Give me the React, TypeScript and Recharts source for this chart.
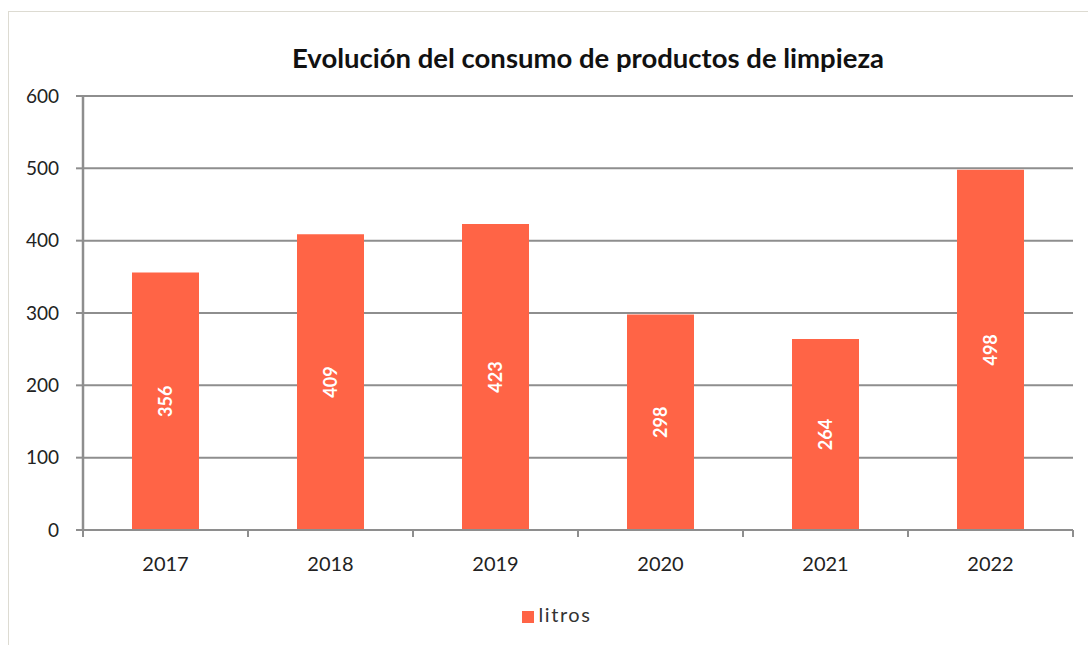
import { BarChart, Bar, XAxis, YAxis, CartesianGrid, Legend, LabelList } from 'recharts'

const years = ['2017', '2018', '2019', '2020', '2021', '2022']
const litros = [356, 409, 423, 298, 264, 498]
const yTicks = [0, 100, 200, 300, 400, 500, 600]

const data = years.map((year, i) => ({ year, litros: litros[i] }))

const FONT = 'Lato, "Open Sans", sans-serif'
const GRID = '#8e8e8e'
const BAR = '#FF6446'
const X_MARGIN = 27

// Excel style: tick marks sit on the category boundaries, label in the middle
function YearTick(props: any) {
  const { x, y, payload, index, visibleTicksCount } = props
  const half = payload.offset || 0
  const top = y - X_MARGIN
  const last = index === visibleTicksCount - 1
  return (
    <g>
      <line x1={x - half} x2={x - half} y1={top} y2={top + 7} stroke={GRID} strokeWidth={2} />
      {last && <line x1={x + half} x2={x + half} y1={top} y2={top + 7} stroke={GRID} strokeWidth={2} />}
      <text x={x} y={y} dy="0.71em" textAnchor="middle" fill="#222" fontSize={20} fontFamily={FONT}>
        {payload.value}
      </text>
    </g>
  )
}

export default function App() {
  return (
    <div style={{ position: 'absolute', left: 0, top: 0, width: 1088, height: 645, overflow: 'hidden', background: '#fff', fontFamily: FONT }}>
      {/* frame of the original chart area, only top and left show */}
      <div style={{ position: 'absolute', left: 8, top: 11, width: 1200, height: 800, border: '1px solid #dddbd2' }} />
      <div style={{ position: 'absolute', left: 0, width: 1176, top: 42, textAlign: 'center', fontSize: 27.5, fontWeight: 700, color: '#111', lineHeight: '32px' }}>
        Evolución del consumo de productos de limpieza
      </div>
      <BarChart width={1088} height={645} data={data} margin={{ top: 96, right: 15, left: 0, bottom: 85 }} style={{ position: 'absolute', left: 0, top: 0 }}>
        <CartesianGrid vertical={false} stroke={GRID} strokeWidth={2} />
        <YAxis
          domain={[0, 600]}
          ticks={yTicks}
          width={83}
          axisLine={{ stroke: GRID, strokeWidth: 2.5 }}
          tickLine={{ stroke: GRID, strokeWidth: 2 }}
          tickSize={7}
          tickMargin={17}
          tick={{ fill: '#222', fontSize: 19, fontFamily: FONT }}
        />
        <XAxis
          dataKey="year"
          height={30}
          axisLine={{ stroke: GRID, strokeWidth: 2 }}
          tickLine={false}
          tickSize={0}
          tickMargin={X_MARGIN}
          tick={<YearTick />}
          interval={0}
        />
        <Legend
          verticalAlign="middle"
          layout="horizontal"
          iconType="square"
          iconSize={12}
          wrapperStyle={{ top: 602, left: 18, width: 1088, fontFamily: FONT, fontSize: 20, letterSpacing: 1.6 }}
          formatter={(value) => <span style={{ color: '#333' }}>{value}</span>}
        />
        <Bar dataKey="litros" name="litros" fill={BAR} barSize={67} isAnimationActive={false}>
          <LabelList
            dataKey="litros"
            position="center"
            angle={-90}
            fill="#fff"
            style={{ fontSize: 18, fontWeight: 700, fontFamily: FONT }}
          />
        </Bar>
      </BarChart>
    </div>
  )
}
